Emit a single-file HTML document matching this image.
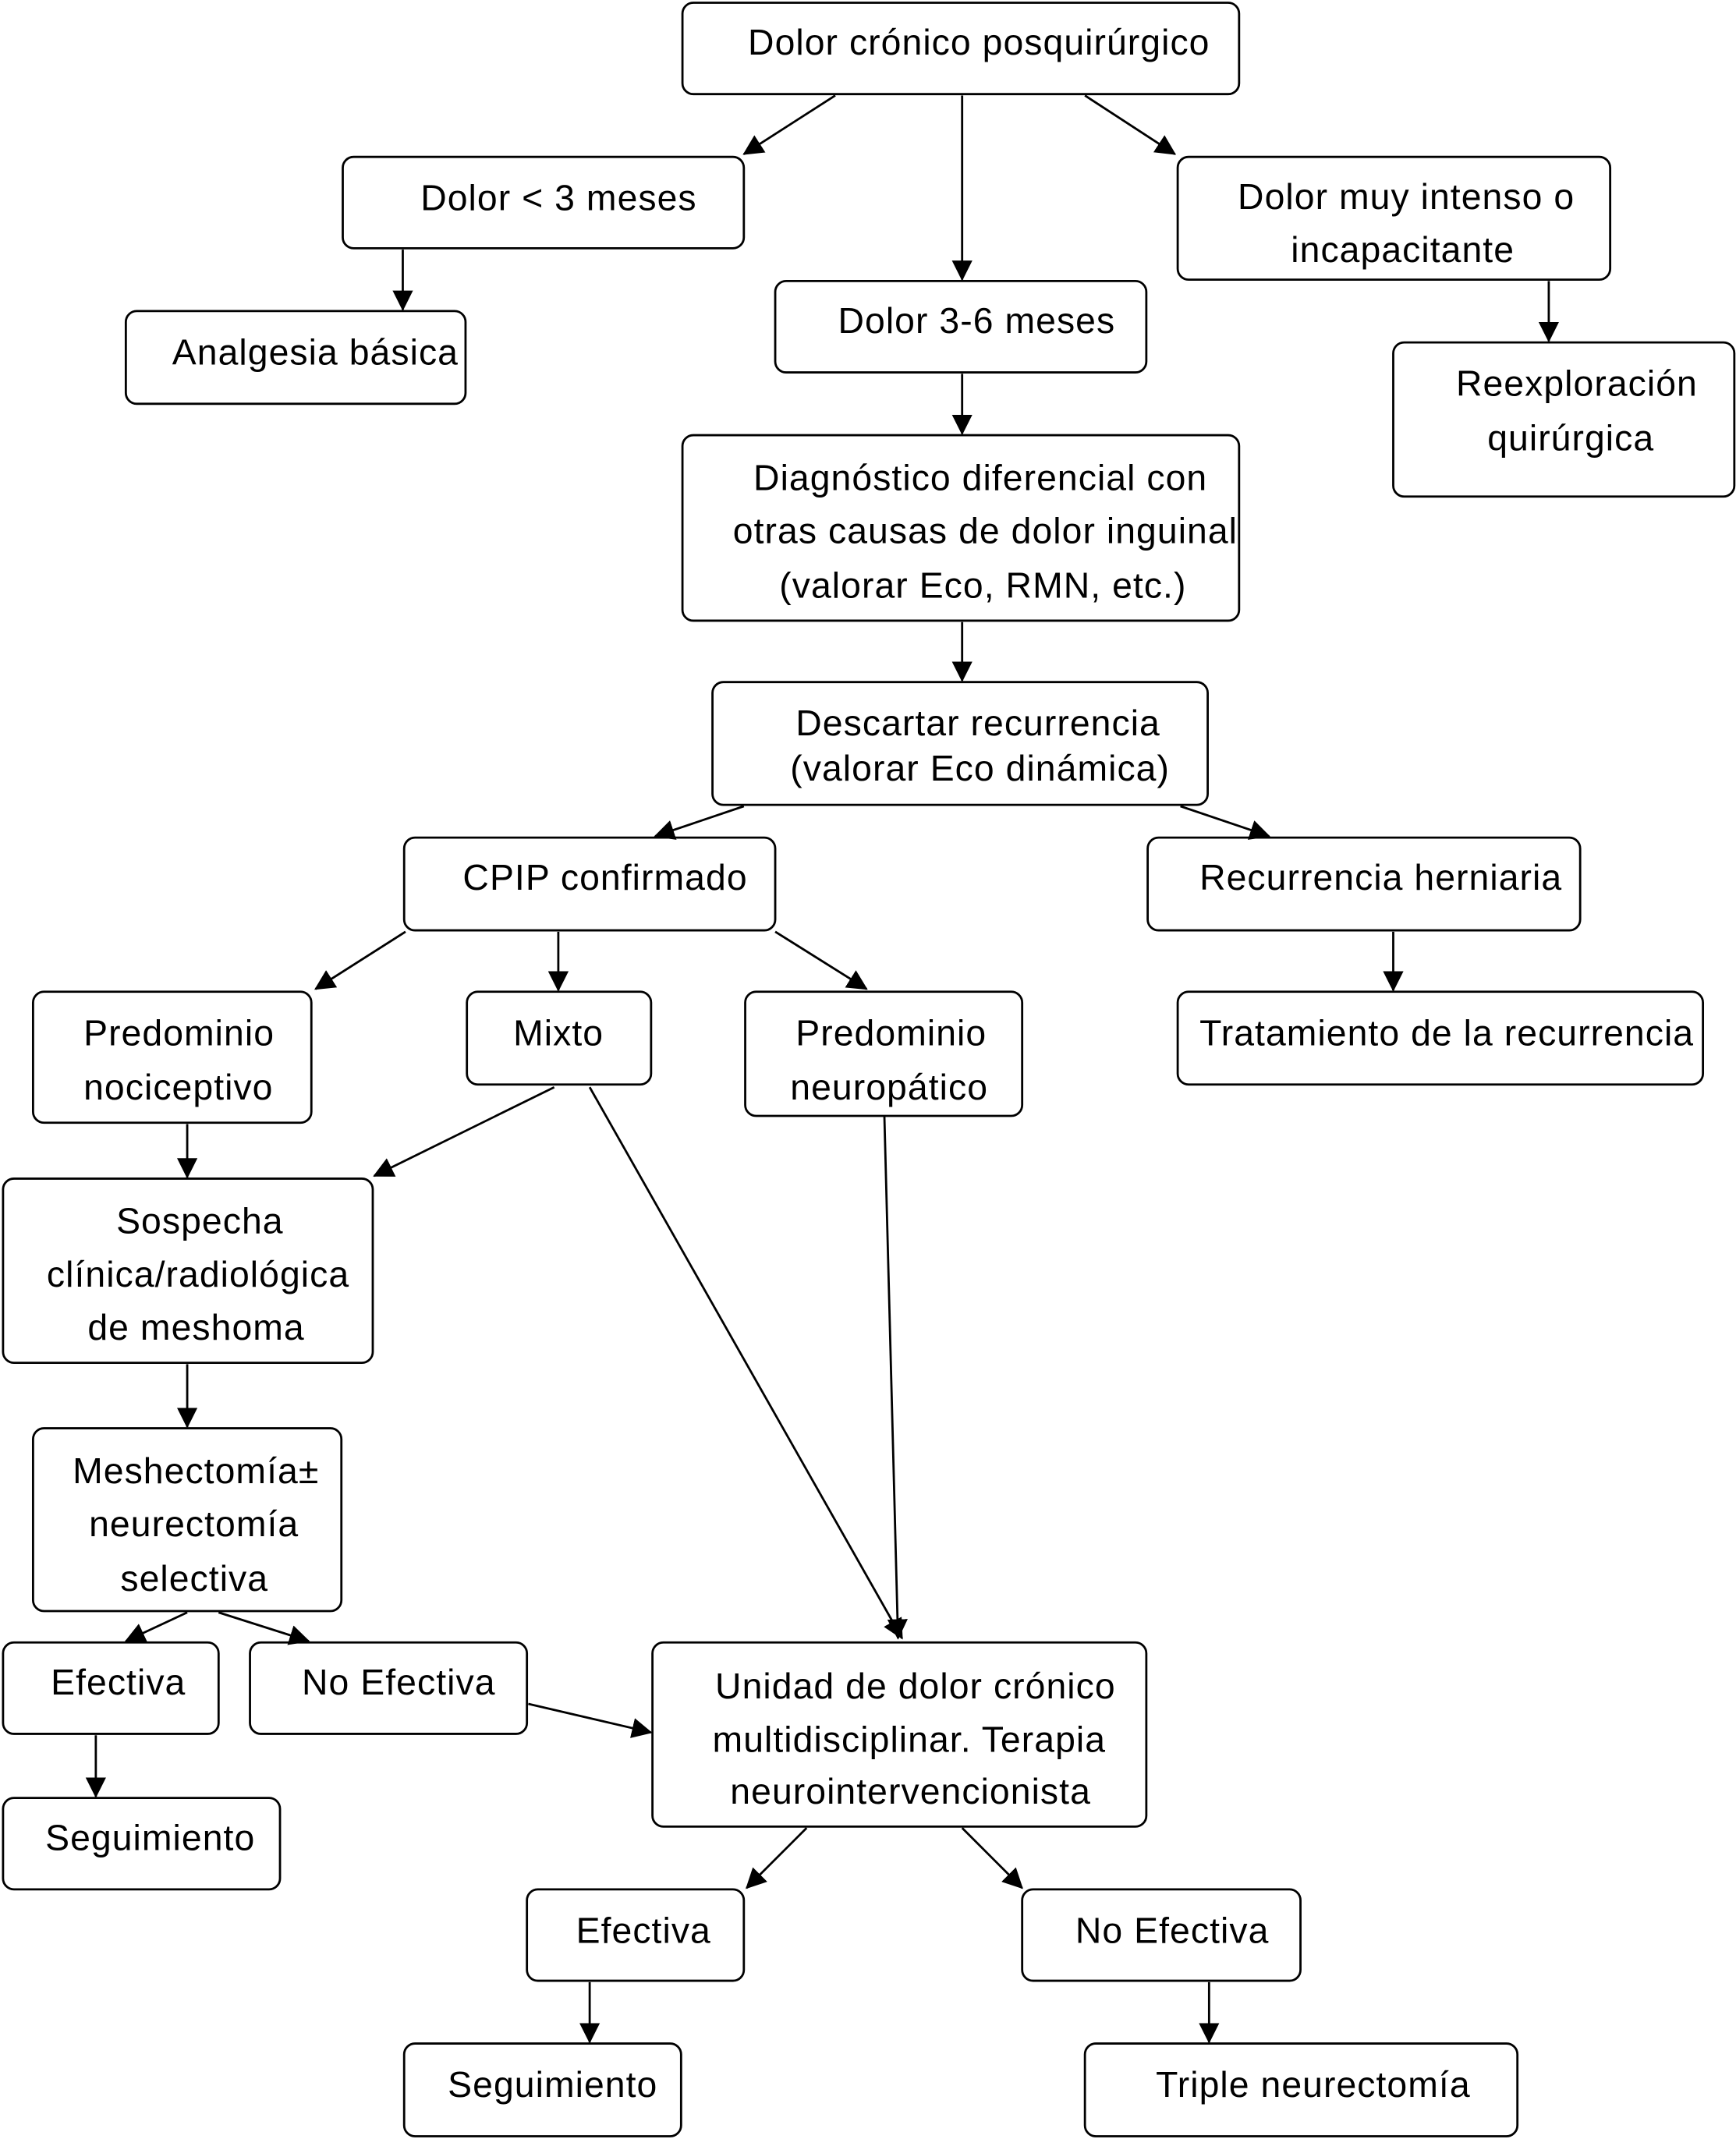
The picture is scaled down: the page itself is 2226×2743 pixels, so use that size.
<!DOCTYPE html>
<html><head><meta charset="utf-8"><style>
html,body{margin:0;padding:0;background:#fff;}
svg{display:block}
text{font-family:"Liberation Sans",Arial,sans-serif;font-size:26.5px;letter-spacing:0.6px;fill:#000;dominant-baseline:central}
rect{fill:#fff;stroke:#000;stroke-width:1.6}
line{stroke:#000;stroke-width:1.6}
</style></head><body>
<svg width="2226" height="2743" viewBox="0 0 1272 1568" xmlns="http://www.w3.org/2000/svg">
<defs><marker id="a" markerWidth="15" markerHeight="15" refX="14" refY="7.5" orient="auto" markerUnits="userSpaceOnUse"><path d="M0,0 L15,7.5 L0,15 z" fill="#000"/></marker></defs>
<g>
<rect x="500" y="2" width="408" height="67" rx="8"/><text x="548" y="31">Dolor crónico posquirúrgico</text>
<rect x="251" y="115" width="294" height="67" rx="8"/><text x="308" y="145">Dolor &lt; 3 meses</text>
<rect x="863" y="115" width="317" height="90" rx="8"/><text x="907" y="144">Dolor muy intenso o</text><text x="946" y="183">incapacitante</text>
<rect x="92" y="228" width="249" height="68" rx="8"/><text x="126" y="258">Analgesia básica</text>
<rect x="568" y="206" width="272" height="67" rx="8"/><text x="614" y="235">Dolor 3-6 meses</text>
<rect x="1021" y="251" width="250" height="113" rx="8"/><text x="1067" y="281">Reexploración</text><text x="1090" y="321">quirúrgica</text>
<rect x="500" y="319" width="408" height="136" rx="8"/><text x="552" y="350">Diagnóstico diferencial con</text><text x="537" y="389">otras causas de dolor inguinal</text><text x="571" y="429">(valorar Eco, RMN, etc.)</text>
<rect x="522" y="500" width="363" height="90" rx="8"/><text x="583" y="530">Descartar recurrencia</text><text x="579" y="563">(valorar Eco dinámica)</text>
<rect x="296" y="614" width="272" height="68" rx="8"/><text x="339" y="643">CPIP confirmado</text>
<rect x="841" y="614" width="317" height="68" rx="8"/><text x="879" y="643">Recurrencia herniaria</text>
<rect x="24" y="727" width="204" height="96" rx="8"/><text x="61" y="757">Predominio</text><text x="61" y="797">nociceptivo</text>
<rect x="342" y="727" width="135" height="68" rx="8"/><text x="376" y="757">Mixto</text>
<rect x="546" y="727" width="203" height="91" rx="8"/><text x="583" y="757">Predominio</text><text x="579" y="797">neuropático</text>
<rect x="863" y="727" width="385" height="68" rx="8"/><text x="879" y="757">Tratamiento de la recurrencia</text>
<rect x="2" y="864" width="271" height="135" rx="8"/><text x="85" y="895">Sospecha</text><text x="34" y="934">clínica/radiológica</text><text x="64" y="973">de meshoma</text>
<rect x="24" y="1047" width="226" height="134" rx="8"/><text x="53" y="1078">Meshectomía±</text><text x="65" y="1117">neurectomía</text><text x="88" y="1157">selectiva</text>
<rect x="2" y="1204" width="158" height="67" rx="8"/><text x="37" y="1233">Efectiva</text>
<rect x="183" y="1204" width="203" height="67" rx="8"/><text x="221" y="1233">No Efectiva</text>
<rect x="478" y="1204" width="362" height="135" rx="8"/><text x="524" y="1236">Unidad de dolor crónico</text><text x="522" y="1275">multidisciplinar. Terapia</text><text x="535" y="1313">neurointervencionista</text>
<rect x="2" y="1318" width="203" height="67" rx="8"/><text x="33" y="1347">Seguimiento</text>
<rect x="386" y="1385" width="159" height="67" rx="8"/><text x="422" y="1415">Efectiva</text>
<rect x="749" y="1385" width="204" height="67" rx="8"/><text x="788" y="1415">No Efectiva</text>
<rect x="296" y="1498" width="203" height="68" rx="8"/><text x="328" y="1528">Seguimiento</text>
<rect x="795" y="1498" width="317" height="68" rx="8"/><text x="847" y="1528">Triple neurectomía</text>
</g>
<g>
<line x1="612" y1="70" x2="545" y2="113" marker-end="url(#a)"/>
<line x1="705" y1="70" x2="705" y2="205" marker-end="url(#a)"/>
<line x1="795" y1="70" x2="861" y2="113" marker-end="url(#a)"/>
<line x1="295" y1="183" x2="295" y2="227" marker-end="url(#a)"/>
<line x1="1135" y1="206" x2="1135" y2="250" marker-end="url(#a)"/>
<line x1="705" y1="274" x2="705" y2="318" marker-end="url(#a)"/>
<line x1="705" y1="456" x2="705" y2="499" marker-end="url(#a)"/>
<line x1="545" y1="591" x2="480" y2="613" marker-end="url(#a)"/>
<line x1="865" y1="591" x2="930" y2="613" marker-end="url(#a)"/>
<line x1="297" y1="683" x2="231" y2="725" marker-end="url(#a)"/>
<line x1="409" y1="683" x2="409" y2="726" marker-end="url(#a)"/>
<line x1="568" y1="683" x2="635" y2="725" marker-end="url(#a)"/>
<line x1="1021" y1="683" x2="1021" y2="726" marker-end="url(#a)"/>
<line x1="137" y1="824" x2="137" y2="863" marker-end="url(#a)"/>
<line x1="406" y1="797" x2="274" y2="862" marker-end="url(#a)"/>
<line x1="432" y1="797" x2="661" y2="1201" marker-end="url(#a)"/>
<line x1="648" y1="818" x2="658" y2="1201" marker-end="url(#a)"/>
<line x1="137" y1="1000" x2="137" y2="1046" marker-end="url(#a)"/>
<line x1="137" y1="1182" x2="92" y2="1203" marker-end="url(#a)"/>
<line x1="160" y1="1182" x2="226" y2="1203" marker-end="url(#a)"/>
<line x1="70" y1="1272" x2="70" y2="1317" marker-end="url(#a)"/>
<line x1="387" y1="1249" x2="477" y2="1270" marker-end="url(#a)"/>
<line x1="591" y1="1340" x2="547" y2="1384" marker-end="url(#a)"/>
<line x1="705" y1="1340" x2="749" y2="1384" marker-end="url(#a)"/>
<line x1="432" y1="1453" x2="432" y2="1497" marker-end="url(#a)"/>
<line x1="886" y1="1453" x2="886" y2="1497" marker-end="url(#a)"/>
</g>
</svg>
</body></html>
